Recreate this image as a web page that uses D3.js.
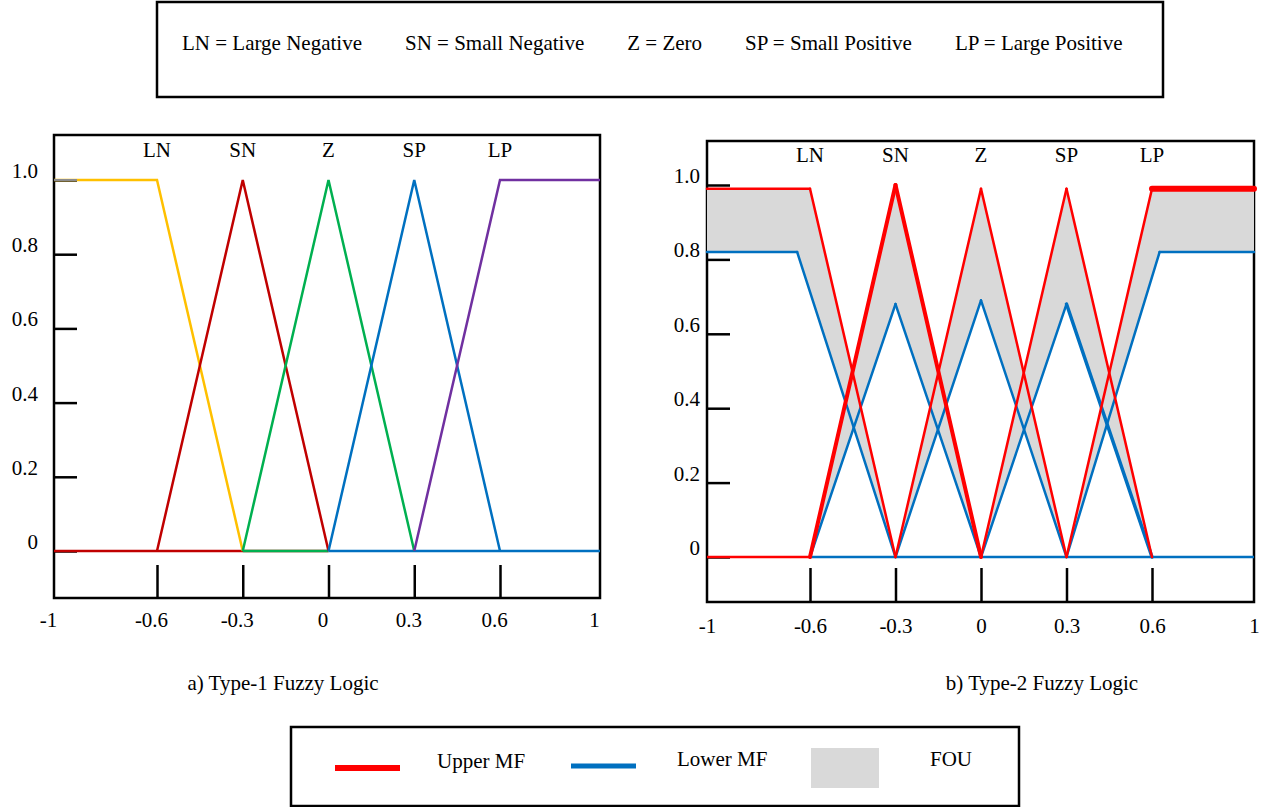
<!DOCTYPE html>
<html>
<head>
<meta charset="utf-8">
<script src="https://cdn.jsdelivr.net/npm/d3@7"></script>
<style>
  body { margin: 0; background: #fff; }
  svg text { font-family: "Liberation Serif", "Times New Roman", serif; font-size: 21px; fill: #000; }
</style>
</head>
<body>
<svg id="chart" width="1262" height="807"></svg>
<script>
// membership function names
const mfLabels = ["LN", "SN", "Z", "SP", "LP"];
const mfNames = ["Large Negative", "Small Negative", "Zero", "Small Positive", "Large Positive"];
const mfPeaks = [-0.6, -0.3, 0, 0.3, 0.6];

const xTicks = [-1, -0.6, -0.3, 0, 0.3, 0.6, 1];
const yTicks = [0, 0.2, 0.4, 0.6, 0.8, 1.0];

// a) type-1 MFs (vertices)
const t1X = [[-1, -0.6, -0.3], [-0.6, -0.3, 0], [-0.3, 0, 0.3], [0, 0.3, 0.6], [0.3, 0.6, 1]];
const t1Y = [[1, 1, 0], [0, 1, 0], [0, 1, 0], [0, 1, 0], [0, 1, 1]];
const t1Base = [null, [-1, 0], [-0.3, 0], [0, 1], null];
const t1Colors = ["#FFC000", "#C00000", "#00B050", "#0070C0", "#7030A0"];

// b) type-2 MFs, upper and lower
const upperX = [[-1, -0.6, -0.3], [-0.6, -0.3, 0], [-0.3, 0, 0.3], [0, 0.3, 0.6], [0.3, 0.6, 1]];
const upperY = [[0.99, 0.99, 0], [0, 1, 0], [0, 0.99, 0], [0, 0.99, 0], [0, 0.99, 0.99]];
const lowerX = [[-1, -0.65, -0.3], [-0.6, -0.3, 0], [-0.3, 0, 0.3], [0, 0.3, 0.6], [0.3, 0.63, 1]];
const lowerY = [[0.82, 0.82, 0], [0, 0.68, 0], [0, 0.69, 0], [0, 0.68, 0], [0, 0.82, 0.82]];
const upperBase = [-1, -0.6];
const lowerBase = [-0.6, 1];

// stroke widths per segment
const upperW = [[2.5, 2.5], [4, 4], [2.5, 2.5], [2.5, 2.5], [2.5, 6]];
const lowerW = [[2.5, 2.5], [2.5, 2.5], [2.5, 2.5], [2.5, 3.5], [2.5, 2.5]];

const legendItems = ["Upper MF", "Lower MF", "FOU"];
const captions = ["a) Type-1 Fuzzy Logic", "b) Type-2 Fuzzy Logic"];

const UPPER = "#FF0000", LOWER = "#0070C0", FOU = "#D9D9D9";

const svg = d3.select("#chart");

// top legend box
svg.append("rect")
  .attr("x", 157).attr("y", 2).attr("width", 1006).attr("height", 95)
  .attr("fill", "none").attr("stroke", "#000").attr("stroke-width", 2.5);

let tx = 182;
mfLabels.forEach(function(l, i) {
  const t = svg.append("text").attr("x", tx).attr("y", 50).text(l + " = " + mfNames[i]);
  tx += t.node().getComputedTextLength() + 43;
});

function panel(cfg) {
  const x = d3.scaleLinear().domain([-1, -0.6, 0.6, 1]).range(cfg.xr);
  const y = d3.scaleLinear().domain([0, 1]).range([cfg.y0, cfg.y1]);
  const g = svg.append("g");
  const line = d3.line().x(d => x(d[0])).y(d => y(d[1]));

  g.append("rect")
    .attr("x", cfg.xr[0]).attr("y", cfg.top)
    .attr("width", cfg.xr[3] - cfg.xr[0]).attr("height", cfg.bottom - cfg.top)
    .attr("fill", "none").attr("stroke", "#000").attr("stroke-width", 2.5);

  const xa = g.append("g")
    .attr("transform", `translate(0,${cfg.bottom})`)
    .call(d3.axisBottom(x).tickValues(xTicks).tickFormat(d => String(d))
      .tickSizeInner(-cfg.xTick).tickSizeOuter(0).tickPadding(cfg.xPad));
  xa.select(".domain").remove();
  xa.attr("font-size", null).attr("font-family", null);
  xa.selectAll(".tick line").attr("stroke-width", 2.5)
    .filter(d => d === -1 || d === 1).remove();
  xa.selectAll(".tick text").attr("dx", cfg.xDx);

  const ya = g.append("g")
    .attr("transform", `translate(${cfg.xr[0]},0)`)
    .call(d3.axisLeft(y).tickValues(yTicks).tickFormat(d => d === 0 ? "0" : d.toFixed(1))
      .tickSizeInner(-23).tickSizeOuter(0).tickPadding(cfg.yPad));
  ya.select(".domain").remove();
  ya.attr("font-size", null).attr("font-family", null);
  ya.selectAll(".tick line").attr("stroke-width", 2.5);
  ya.selectAll(".tick text").attr("dy", "-0.12em");

  g.selectAll(".mflabel")
    .data(mfLabels)
    .enter().append("text")
    .attr("x", (d, i) => x(mfPeaks[i]))
    .attr("y", cfg.labelY)
    .attr("text-anchor", "middle")
    .text(d => d);

  return { g: g, x: x, y: y, line: line };
}

// a) type-1
const p1 = panel({ xr: [54, 157, 500, 600], y0: 551, y1: 180, top: 135, bottom: 598,
  xTick: 33, xPad: 14, xDx: -6, yPad: 16, labelY: 157 });

mfLabels.forEach(function(l, i) {
  if (t1Base[i]) {
    p1.g.append("path")
      .attr("d", p1.line([[t1Base[i][0], 0], [t1Base[i][1], 0]]))
      .attr("fill", "none").attr("stroke", t1Colors[i]).attr("stroke-width", 2.5);
  }
});
mfLabels.forEach(function(l, i) {
  p1.g.append("path")
    .attr("d", p1.line(d3.zip(t1X[i], t1Y[i])))
    .attr("fill", "none").attr("stroke", t1Colors[i]).attr("stroke-width", 2.5);
});
// the 1.0 tick shows grey over the yellow line
p1.g.append("line")
  .attr("x1", p1.x(-1)).attr("x2", p1.x(-1) + 23)
  .attr("y1", p1.y(1)).attr("y2", p1.y(1))
  .attr("stroke", "#8c8c8c").attr("stroke-width", 2);

// b) type-2
const p2 = panel({ xr: [707, 810, 1152, 1254], y0: 557, y1: 185, top: 141, bottom: 602,
  xTick: 34, xPad: 16, xDx: 0, yPad: 7, labelY: 162 });

// footprint of uncertainty
mfLabels.forEach(function(l, i) {
  const pts = d3.zip(upperX[i], upperY[i]).concat(d3.zip(lowerX[i], lowerY[i]).reverse());
  p2.g.append("path")
    .attr("d", p2.line(pts) + "Z")
    .attr("fill", FOU).attr("stroke", "none");
});

p2.g.append("path")
  .attr("d", p2.line([[lowerBase[0], 0], [lowerBase[1], 0]]))
  .attr("stroke", LOWER).attr("stroke-width", 2.5);
p2.g.append("path")
  .attr("d", p2.line([[upperBase[0], 0], [upperBase[1], 0]]))
  .attr("stroke", UPPER).attr("stroke-width", 2.5);

function drawSegs(xs, ys, ws, color) {
  const pts = d3.zip(xs, ys);
  d3.pairs(pts).forEach(function(seg, k) {
    p2.g.append("path")
      .attr("d", p2.line(seg))
      .attr("fill", "none").attr("stroke", color)
      .attr("stroke-width", ws[k]).attr("stroke-linecap", "round");
  });
}
mfLabels.forEach((l, i) => drawSegs(lowerX[i], lowerY[i], lowerW[i], LOWER));
mfLabels.forEach((l, i) => drawSegs(upperX[i], upperY[i], upperW[i], UPPER));

// captions
svg.selectAll(".caption")
  .data(captions)
  .enter().append("text")
  .attr("x", (d, i) => [283, 1042][i])
  .attr("y", 690)
  .attr("text-anchor", "middle")
  .text(d => d);

// bottom legend
svg.append("rect")
  .attr("x", 291).attr("y", 727).attr("width", 728).attr("height", 79)
  .attr("fill", "none").attr("stroke", "#000").attr("stroke-width", 2.5);

svg.append("line").attr("x1", 335).attr("x2", 400).attr("y1", 768).attr("y2", 768)
  .attr("stroke", UPPER).attr("stroke-width", 6);
svg.append("line").attr("x1", 571).attr("x2", 636).attr("y1", 766).attr("y2", 766)
  .attr("stroke", LOWER).attr("stroke-width", 5);
svg.append("rect").attr("x", 811).attr("y", 748).attr("width", 68).attr("height", 40)
  .attr("fill", FOU);

svg.selectAll(".legtext")
  .data(legendItems)
  .enter().append("text")
  .attr("x", (d, i) => [437, 677, 930][i])
  .attr("y", (d, i) => [768, 766, 766][i])
  .text(d => d);
</script>
</body>
</html>
